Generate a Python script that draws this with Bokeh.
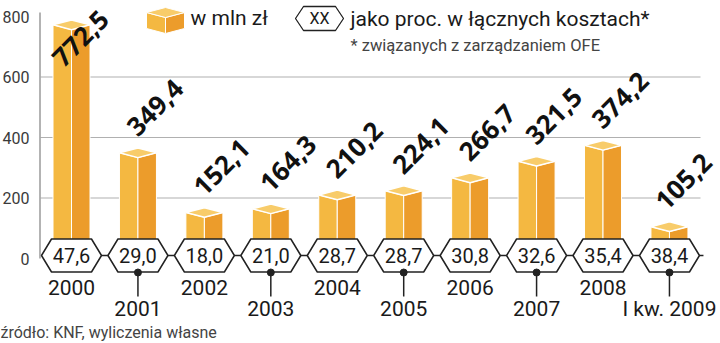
from bokeh.plotting import figure
from bokeh.models import Range1d, Label
from bokeh.core.properties import value
from bokeh.embed import file_html
from bokeh.resources import INLINE

years = ["2000", "2001", "2002", "2003", "2004", "2005", "2006", "2007", "2008", "I kw. 2009"]
costs_mln = [772.5, 349.4, 152.1, 164.3, 210.2, 224.1, 266.7, 321.5, 374.2, 105.2]
pct_share = [47.6, 29.0, 18.0, 21.0, 28.7, 28.7, 30.8, 32.6, 35.4, 38.4]
y_ticks = [0, 200, 400, 600, 800]

W, H = 720, 343
X0PX, DXPX = 71.0, 66.44          # pixel of category 0, spacing
Y0PX, KY = 258.0, 0.3025          # pixel of value 0, px per unit

def px(xp):
    return (xp - X0PX) / DXPX

def py(yp):
    return (Y0PX - yp) / KY

p = figure(width=W, height=H, output_backend="svg", toolbar_location=None,
           x_range=Range1d(px(0), px(W)), y_range=Range1d(py(H), py(0)),
           x_axis_type=None, y_axis_type=None, min_border=0,
           background_fill_color="white", border_fill_color="white")
p.outline_line_color = None
p.grid.visible = False

FONT = "Roboto"
n = len(years)
xs = list(range(n))

# grid lines + axis
grid_vals = [t for t in y_ticks if 0 < t < 800]
p.segment(x0=[px(40)] * len(grid_vals), x1=[px(700)] * len(grid_vals), y0=grid_vals, y1=grid_vals,
          line_color="#b0b0b0", line_width=1.2)
p.segment(x0=[px(39.5)], x1=[px(39.5)], y0=[0], y1=[py(12)], line_color="#9a9a9a", line_width=1.5)
p.text(x=[px(29)] * len(y_ticks), y=y_ticks, text=[str(t) for t in y_ticks],
       text_align="right", text_baseline="middle", text_font=value(FONT),
       text_font_size="16px", text_color="#3a3a3a")

# 3D bars
hw = 18.5 / DXPX
dz = 16.0
left_xs, left_ys, right_xs, right_ys, top_xs, top_ys = [], [], [], [], [], []
for i, v in enumerate(costs_mln):
    left_xs.append([i - hw, i - hw, i, i])
    left_ys.append([0, v, v - dz, 0])
    right_xs.append([i, i, i + hw, i + hw])
    right_ys.append([0, v - dz, v, 0])
    top_xs.append([i - hw, i, i + hw, i])
    top_ys.append([v, v + dz, v, v - dz])
p.patches(left_xs, left_ys, fill_color="#F4B841", line_color="white", line_width=1)
p.patches(right_xs, right_ys, fill_color="#EC9C2B", line_color="white", line_width=1)
p.patches(top_xs, top_ys, fill_color="#F8CC6A", line_color="white", line_width=1.5)

# value labels (rotated)
lab_y = [min(v + 150, py(38)) for v in costs_mln]
lab_x = [i + 17 / DXPX if v < 700 else i + 9 / DXPX for i, v in enumerate(costs_mln)]
lab_x[-1] = n - 1 + 14 / DXPX
p.text(x=lab_x, y=lab_y, text=[f"{v:.1f}".replace(".", ",") for v in costs_mln],
       angle=45, angle_units="deg", text_align="center", text_baseline="middle",
       text_font=value("Open Sans"), text_font_style="bold", text_font_size="26px",
       text_color="#111111")

# hexagons with percentage share
hcy = py(255)
hhw = 30 / DXPX
hin = 10 / DXPX
hh = 16.5 / KY
hex_xs, hex_ys = [], []
for i in xs:
    hex_xs.append([i - hhw, i - hhw + hin, i + hhw - hin, i + hhw, i + hhw - hin, i - hhw + hin])
    hex_ys.append([hcy, hcy + hh, hcy + hh, hcy, hcy - hh, hcy - hh])
# connectors
p.segment(x0=[i + hhw for i in xs], x1=[i + 1 - hhw if i < n - 1 else i + hhw + 4 / DXPX for i in xs],
          y0=[hcy] * n, y1=[hcy] * n, line_color="#222222", line_width=1.5)
p.patches(hex_xs, hex_ys, fill_color="white", line_color="#222222", line_width=1.5)
p.text(x=xs, y=[hcy] * n, text=[f"{v:.1f}".replace(".", ",") for v in pct_share],
       text_align="center", text_baseline="middle", text_font=value(FONT),
       text_font_size="20px", text_color="#1a1a1a")

# year labels, alternating
even = [i for i in xs if i % 2 == 0]
odd = [i for i in xs if i % 2 == 1]
p.text(x=even, y=[py(287)] * len(even), text=[years[i] for i in even],
       text_align="center", text_baseline="middle", text_font=value(FONT),
       text_font_size="21px", text_color="#1a1a1a")
p.segment(x0=odd, x1=odd, y0=[py(272)] * len(odd), y1=[py(296)] * len(odd),
          line_color="#222222", line_width=1.5)
p.scatter(x=odd, y=[py(272)] * len(odd), size=7, color="#222222")
p.text(x=odd, y=[py(308)] * len(odd), text=[years[i] for i in odd],
       text_align="center", text_baseline="middle", text_font=value(FONT),
       text_font_size="21px", text_color="#1a1a1a")

# legend: cube icon
cx, cl, cr, ct, cb = px(165), px(146), px(184), py(12), py(28)
cd = 5 / KY
p.patches([[cl, cl, cx, cx], [cx, cx, cr, cr], [cl, cx, cr, cx]],
          [[cb, ct, ct - cd, cb - cd], [cb - cd, ct - cd, ct, cb], [ct, ct + cd, ct, ct - cd]],
          fill_color=["#F4B841", "#EC9C2B", "#F8CC6A"], line_color="white", line_width=1)
p.add_layout(Label(x=190, y=H - 17, x_units="screen", y_units="screen", text="w mln zł",
                   text_font=FONT, text_font_size="21px", text_color="#1a1a1a",
                   text_baseline="middle"))
# legend: hex icon
lx0, lx1, lin = px(295), px(343), 8 / DXPX
lyc, lhh = py(18), 12 / KY
p.patch([lx0, lx0 + lin, lx1 - lin, lx1, lx1 - lin, lx0 + lin],
        [lyc, lyc + lhh, lyc + lhh, lyc, lyc - lhh, lyc - lhh],
        fill_color="white", line_color="#222222", line_width=1.3)
p.text(x=[px(319)], y=[lyc], text=["XX"], text_align="center", text_baseline="middle",
       text_font=value(FONT), text_font_size="16px", text_color="#1a1a1a")
p.add_layout(Label(x=350, y=H - 18, x_units="screen", y_units="screen",
                   text="jako proc. w łącznych kosztach*",
                   text_font=FONT, text_font_size="21px", text_color="#1a1a1a",
                   text_baseline="middle"))
p.add_layout(Label(x=350, y=H - 45, x_units="screen", y_units="screen",
                   text="* związanych z zarządzaniem OFE",
                   text_font=FONT, text_font_size="16.5px", text_color="#444444",
                   text_font_style="normal", text_baseline="middle"))
# source
p.add_layout(Label(x=0, y=H - 332, x_units="screen", y_units="screen",
                   text="źródło: KNF, wyliczenia własne",
                   text_font=FONT, text_font_size="16px", text_color="#444444",
                   text_baseline="middle"))

open("out.html", "w").write(file_html(p, INLINE))
